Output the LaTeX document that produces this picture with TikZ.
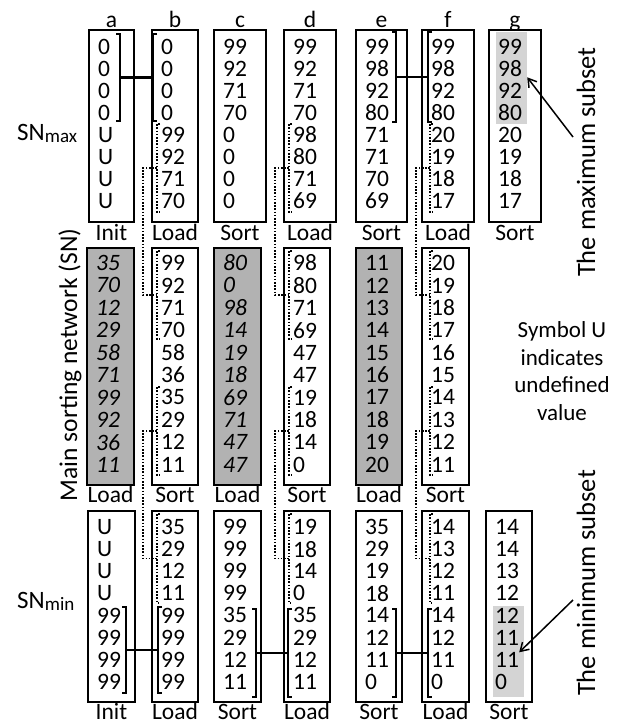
\documentclass[tikz,border=0pt]{standalone}
\usepackage{fontspec}
\setmainfont{Carlito}
\usetikzlibrary{arrows.meta}

\definecolor{snfill}{gray}{0.70}
\definecolor{hilite}{gray}{0.83}

\tikzset{
	colbox/.style={line width=1.3pt},
	entry/.style={anchor=west, inner sep=0pt, font=\fontsize{23.5}{26}\selectfont},
	stage/.style={anchor=base, inner sep=0pt, font=\fontsize{23.5}{26}\selectfont},
	brk/.style={line width=1.9pt},
	link/.style={line width=2.1pt},
	dots/.style={line width=1.6pt, dash pattern=on 1.6pt off 1.6pt},
	pointer/.style={line width=1.5pt, -{Straight Barb[length=8pt,width=10pt]}},
	sidetext/.style={rotate=90, inner sep=0pt, font=\fontsize{26.5}{30}\selectfont},
}

% crochets : nom, x, haut, bas
\newcommand{\closebr}[4]{%
	\draw[brk] (#2-4,#3) -- (#2,#3) -- (#2,#4) -- (#2-4,#4);
	\coordinate (#1) at (#2,{(#3+#4)/2});}
\newcommand{\openbr}[4]{%
	\draw[brk] (#2+4,#3) -- (#2,#3) -- (#2,#4) -- (#2+4,#4);
	\coordinate (#1) at (#2,{(#3+#4)/2});}
\newcommand{\dotbr}[4]{%
	\draw[dots] (#2+3,#3) -- (#2,#3) -- (#2,#4) -- (#2+3,#4);
	\coordinate (#1) at (#2,{(#3+#4)/2});}

\begin{document}
\begin{tikzpicture}[x=1pt,y=-1pt]
			\useasboundingbox (0,0) rectangle (620,724);
			
			% Sous-ensembles en gris clair (colonne g)
			\fill[hilite] (496,32) rectangle (527,124);
			\fill[hilite] (493,606) rectangle (524,697);
			
			% Rangée du haut : SN_max
			\foreach \col/\xl/\bw/\lab/\vals in {
				a/89/45/Init/{0,0,0,0,U,U,U,U},
				b/152/46/Load/{0,0,0,0,99,92,71,70},
				c/214/52/Sort/{99,92,71,70,0,0,0,0},
				d/284/52/Load/{99,92,71,70,98,80,71,69},
				e/356/51/Sort/{99,98,92,80,71,71,70,69},
				f/422/52/Load/{99,98,92,80,20,19,18,17},
				g/489/52/Sort/{99,98,92,80,20,19,18,17}}{
				\draw[colbox] (\xl,30) rectangle ++(\bw,192);
				\node[stage] (max-\col-head) at (\xl+\bw/2,27) {\col};
				\node[stage] (max-\col-lab) at (\xl+\bw/2,240) {\lab};
				\foreach \val [count=\k] in \vals
					\node[entry] (max-\col-\k) at (\xl+9,{47+22*(\k-1)}) {\val};
			}
			
			% Rangée du milieu : réseau principal
			\foreach \col/\xl/\bw/\lab/\fc/\fnt/\vals in {
				a/87/47/Load/snfill/\itshape/{35,70,12,29,58,71,99,92,36,11},
				b/152/46/Sort/none/\upshape/{99,92,71,70,58,36,35,29,12,11},
				c/214/47/Load/snfill/\itshape/{80,0,98,14,19,18,69,71,47,47},
				d/284/46/Sort/none/\upshape/{98,80,71,69,47,47,19,18,14,0},
				e/356/46/Load/snfill/\upshape/{11,12,13,14,15,16,17,18,19,20},
				f/422/47/Sort/none/\upshape/{20,19,18,17,16,15,14,13,12,11}}{
				\draw[colbox, fill=\fc] (\xl,248) rectangle ++(\bw,237);
				\node[stage] (sn-\col-lab) at (\xl+\bw/2,502) {\lab};
				\foreach \val [count=\k] in \vals
					\node[entry] (sn-\col-\k) at (\xl+9,{263+22.4*(\k-1)}) {\fnt\val};
			}
			
			% Rangée du bas : SN_min
			\foreach \col/\xl/\bw/\lab/\vals in {
				a/88/47/Init/{U,U,U,U,99,99,99,99},
				b/152/46/Load/{35,29,12,11,99,99,99,99},
				c/214/47/Sort/{99,99,99,99,35,29,12,11},
				d/284/46/Load/{19,18,14,0,35,29,12,11},
				e/356/46/Sort/{35,29,19,18,14,12,11,0},
				f/422/47/Load/{14,13,12,11,14,12,11,0},
				g/486/46/Sort/{14,14,13,12,12,11,11,0}}{
				\draw[colbox] (\xl,511) rectangle ++(\bw,191);
				\node[stage] (min-\col-lab) at (\xl+\bw/2,719) {\lab};
				\foreach \val [count=\k] in \vals
					\node[entry] (min-\col-\k) at (\xl+9,{527+22.1*(\k-1)}) {\val};
			}
			
			% Crochets pleins et liaisons
			\closebr{sa-max}{120}{34}{121}
			\openbr{sb-max}{153}{34}{121}
			\draw[link] (sa-max) -- (sb-max);
			\closebr{se-max}{396}{32}{122}
			\openbr{sf-max}{428}{32}{122}
			\draw[link] (se-max) -- (sf-max);
			\closebr{sa-min}{126}{607}{693}
			\openbr{sb-min}{158}{607}{693}
			\draw[link] (sa-min) -- (sb-min);
			\closebr{sc-min}{256}{609}{697}
			\openbr{sd-min}{288}{609}{697}
			\draw[link] (sc-min) -- (sd-min);
			\closebr{se-min}{396}{609}{697}
			\openbr{sf-min}{428}{609}{697}
			\draw[link] (se-min) -- (sf-min);
			
			% Crochets pointillés entre les rangées
			\foreach \col/\xb in {b/157, d/289, f/430}{
				\dotbr{dm-\col}{\xb}{124}{212}
				\dotbr{dt-\col}{\xb}{251}{339}
				\dotbr{dl-\col}{\xb}{387}{475}
				\dotbr{dn-\col}{\xb}{514}{603}
				\draw[dots] (dm-\col) -- ++(-14,0) |- (dt-\col);
				\draw[dots] (dl-\col) -- ++(-14,0) |- (dn-\col);
			}
			
			% Textes à gauche
			\node[stage, anchor=base west] (snmax) at (17,140) {{\fontsize{25}{28}\selectfont SN}\raisebox{-2pt}{\fontsize{19}{19}\selectfont max}};
			\node[stage, anchor=base west] (snmin) at (17,608) {{\fontsize{25}{28}\selectfont SN}\raisebox{-2pt}{\fontsize{19}{19}\selectfont min}};
			\node[sidetext, font=\fontsize{25.5}{30}\selectfont] (sn-title) at (70,365) {Main sorting network (SN)};
			
			% Textes à droite
			\node[sidetext] (max-title) at (586,162) {The maximum subset};
			\node[sidetext] (min-title) at (586,583) {The minimum subset};
			\node[inner sep=0pt, align=center, font=\fontsize{23}{27.6}\selectfont] (note) at (562,371) {Symbol U\\indicates\\undefined\\value};
			
			% Flèches vers les sous-ensembles
			\coordinate (maxtail) at (573,137);
			\draw[pointer] (maxtail) -- ([xshift=5pt]max-g-2.south east);
			\coordinate (mintail) at (573,600);
			\draw[pointer] (mintail) -- ([yshift=-7pt]min-g-6.south east);
			
		\end{tikzpicture}
\end{document}
